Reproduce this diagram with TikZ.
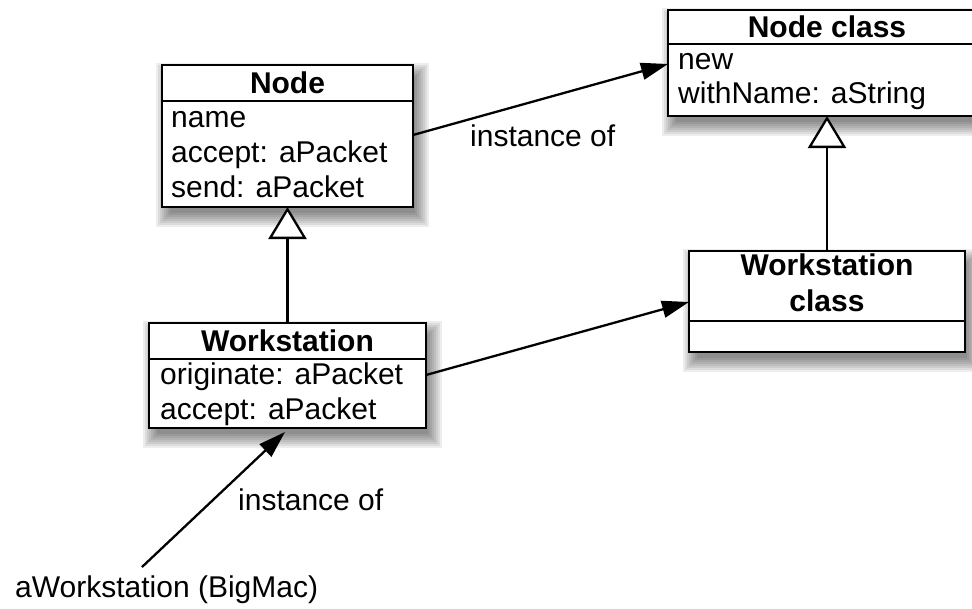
\documentclass[tikz,border=0pt]{standalone}
\usepackage{fontspec}
\setmainfont{Liberation Sans}
\usetikzlibrary{arrows.meta}
\newcommand\boxshadow[4]{%
  \foreach \e in {-3,-1,...,11}{%
    \fill[shade] ({#1+5-\e},{#2+9-\e}) rectangle ({#3+5+\e},{#4+9+\e});}}
\begin{document}
\begin{tikzpicture}[x=1pt,y=-1pt,
  box/.style={draw=black, line width=2.6pt, fill=white, inner sep=0pt, outer sep=0pt},
  hdr/.style={box, font=\fontsize{30}{36}\selectfont\bfseries},
  hdrtext/.style={inner sep=0pt, font=\fontsize{30}{36}\selectfont\bfseries, align=center},
  attr/.style={anchor=base west, inner sep=0pt, font=\fontsize{30}{35}\selectfont},
  inst/.style={line width=2.3pt, -{Triangle[length=27pt,width=17pt]}},
  gen/.style={line width=2.3pt, -{Triangle[open,fill=white,length=32pt,width=38pt]}},
  shade/.style={fill=black, fill opacity=0.07}
]
\useasboundingbox (0,0) rectangle (972,608);
\clip (0,0) rectangle (972,608);

% shadows
\boxshadow{162}{65}{413}{207}
\boxshadow{668}{10}{986}{116}
\boxshadow{149}{323}{426}{428}
\boxshadow{689}{251}{965}{352}

% Node
\node[hdr, minimum width=251pt, minimum height=36pt] (nodeH) at (287.5,83) {Node};
\node[box, minimum width=251pt, minimum height=106pt] (nodeB) at (287.5,154) {};
\node[attr] (nodeA1) at (171,127) {name};
\node[attr] (nodeA2) at (171,162) {accept: aPacket};
\node[attr] (nodeA3) at (171,197) {send: aPacket};

% Node class
\node[hdr, minimum width=318pt, minimum height=34pt] (ncH) at (827,27) {Node class};
\node[box, minimum width=318pt, minimum height=72pt] (ncB) at (827,80) {};
\node[attr] (ncA1) at (678,69) {new};
\node[attr] (ncA2) at (678,103) {withName: aString};

% Workstation
\node[hdr, minimum width=277pt, minimum height=36pt] (wsH) at (287.5,341) {Workstation};
\node[box, minimum width=277pt, minimum height=69pt] (wsB) at (287.5,393.5) {};
\node[attr] (wsA1) at (160,384) {originate: aPacket};
\node[attr] (wsA2) at (160,419) {accept: aPacket};

% Workstation class
\node[box, minimum width=276pt, minimum height=70pt] (wcH) at (827,286) {};
\node[box, minimum width=276pt, minimum height=31pt] (wcB) at (827,336.5) {};
\node[hdrtext] (wcT) at (827,283) {Workstation\\class};

% labels
\node[attr] (lbl1) at (470,146) {instance of};
\node[attr] (lbl2) at (238,510) {instance of};
\node[attr] (aws) at (15,597) {aWorkstation (BigMac)};

% connectors
\draw[inst] ([yshift=19pt]nodeB.east) -- ([yshift=16pt]ncB.west);
\draw[inst] ([yshift=18.5pt]wsB.east) -- ([yshift=-16pt]wcH.west);
\draw[inst] ([xshift=-24.7pt,yshift=8pt]aws.north) -- ([xshift=-2.5pt,yshift=-4pt]wsB.south);
\draw[gen] (wsH.north) -- (nodeB.south);
\draw[gen] (wcH.north) -- (ncB.south);
\end{tikzpicture}
\end{document}
